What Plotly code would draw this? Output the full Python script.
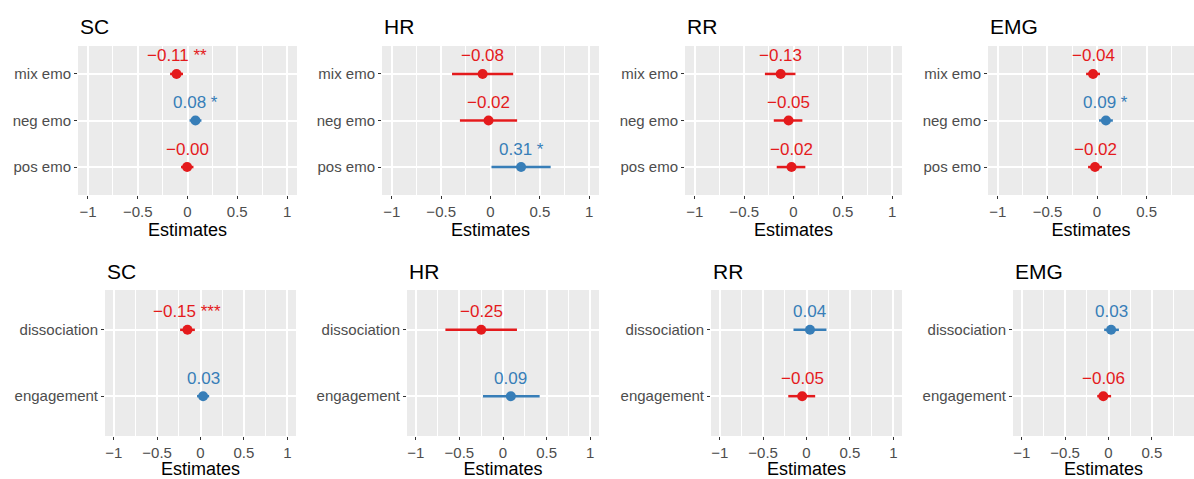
import plotly.graph_objects as go

# Figure size in pixels
W, H = 1194, 479

RED = "#E41A1C"
BLUE = "#377EB8"
FONT = "Liberation Sans, Arial, sans-serif"

measures = ["SC", "HR", "RR", "EMG"]

# Row 1: emotion terms (top to bottom)
emo_terms = ["mix emo", "neg emo", "pos emo"]
emo_est = [
    [-0.11, 0.08, -0.004],   # SC
    [-0.08, -0.02, 0.31],    # HR
    [-0.13, -0.05, -0.02],   # RR
    [-0.04, 0.09, -0.02],    # EMG
]
emo_lo = [
    [-0.175, 0.02, -0.065],
    [-0.39, -0.31, 0.01],
    [-0.29, -0.20, -0.17],
    [-0.11, 0.02, -0.09],
]
emo_hi = [
    [-0.045, 0.14, 0.06],
    [0.23, 0.27, 0.61],
    [0.02, 0.09, 0.12],
    [0.03, 0.16, 0.05],
]
emo_stars = [
    ["**", "*", ""],
    ["", "", "*"],
    ["", "", ""],
    ["", "*", ""],
]

# Row 2: coping terms (top to bottom)
cope_terms = ["dissociation", "engagement"]
cope_est = [
    [-0.15, 0.03],
    [-0.25, 0.09],
    [0.04, -0.05],
    [0.03, -0.06],
]
cope_lo = [
    [-0.235, -0.04],
    [-0.66, -0.23],
    [-0.15, -0.21],
    [-0.05, -0.13],
]
cope_hi = [
    [-0.065, 0.10],
    [0.16, 0.42],
    [0.23, 0.10],
    [0.12, 0.03],
]
cope_stars = [
    ["***", ""],
    ["", ""],
    ["", ""],
    ["", ""],
]

x_ticks = [-1, -0.5, 0, 0.5, 1]
x_ticktext = ["\u22121", "\u22120.5", "0", "0.5", "1"]

# Panel placement in pixels: (left, right), (top, bottom)
top_x = [(78, 297), (382, 599), (685, 902), (988, 1194)]
bot_x = [(105, 296), (407, 599), (711, 902), (1013, 1194)]
top_y = (46, 195)
bot_y = (290, 436)


def px_x(a):
    return a / W


def px_y(a):
    return 1 - a / H


def fmt(v, stars):
    s = f"{v:.2f}".replace("-", "\u2212")
    return s + (" " + stars if stars else "")


fig = go.Figure()
layout = dict(
    width=W, height=H,
    margin=dict(l=0, r=0, t=0, b=0),
    paper_bgcolor="white",
    plot_bgcolor="#EBEBEB",
    showlegend=False,
    font=dict(family=FONT),
)
annotations = []

panels = []
for i in range(4):
    panels.append(("top", i, emo_terms, emo_est[i], emo_lo[i], emo_hi[i], emo_stars[i], top_x[i], top_y))
for i in range(4):
    panels.append(("bot", i, cope_terms, cope_est[i], cope_lo[i], cope_hi[i], cope_stars[i], bot_x[i], bot_y))

for k, (row, i, terms, est, lo, hi, stars, (xl, xr), (yt, yb)) in enumerate(panels, start=1):
    xa = "x" if k == 1 else f"x{k}"
    ya = "y" if k == 1 else f"y{k}"
    n = len(terms)
    # ggplot-style scale: fixed limits -1..1 with 5% padding
    left = -1.1
    width_px = 218 if row == "top" else 191
    units_per_px = 2.2 / width_px
    right = left + (xr - xl) * units_per_px if i == 3 else 1.1

    for t, e, l, h, s in zip(terms, est, lo, hi, stars):
        col = BLUE if e > 0 else RED
        fig.add_trace(go.Scatter(
            x=[e], y=[t], xaxis=xa, yaxis=ya, mode="markers",
            marker=dict(size=10, color=col),
            error_x=dict(type="data", symmetric=False, array=[h - e], arrayminus=[e - l],
                         color=col, thickness=2.5, width=0),
            hoverinfo="skip",
        ))
        annotations.append(dict(
            x=e, y=t, xref=xa, yref=ya, text=fmt(e, s), showarrow=False,
            yshift=18, font=dict(size=17, color=col, family=FONT),
        ))

    xkey = "xaxis" if k == 1 else f"xaxis{k}"
    ykey = "yaxis" if k == 1 else f"yaxis{k}"
    layout[xkey] = dict(
        domain=[px_x(xl), px_x(xr)], anchor=ya, range=[left, right],
        tickvals=x_ticks, ticktext=x_ticktext,
        ticks="outside", ticklen=3, tickwidth=1.2, tickcolor="#333333",
        tickfont=dict(size=15, color="#4D4D4D", family=FONT),
        showgrid=True, gridcolor="white", gridwidth=1.6,
        zeroline=False, showline=False,
        minor=dict(dtick=0.25, tick0=0, showgrid=True, gridcolor="white", gridwidth=0.7, ticks=""),
        title=dict(text="Estimates", font=dict(size=18, color="black", family=FONT), standoff=4),
        fixedrange=True,
    )
    layout[ykey] = dict(
        domain=[px_y(yb), px_y(yt)], anchor=xa,
        type="category", categoryorder="array", categoryarray=terms[::-1],
        range=[-0.6, n - 0.4],
        ticks="outside", ticklen=3, tickwidth=1.2, tickcolor="#333333",
        tickfont=dict(size=15, color="#4D4D4D", family=FONT),
        showgrid=True, gridcolor="white", gridwidth=1.6,
        zeroline=False, showline=False, fixedrange=True,
    )
    annotations.append(dict(
        x=px_x(xl), y=px_y(yt - 19), xref="paper", yref="paper",
        xanchor="left", yanchor="middle", showarrow=False,
        text=measures[i], font=dict(size=21, color="black", family=FONT),
    ))

layout["annotations"] = annotations
fig.update_layout(**layout)
fig.write_html("out.html")
